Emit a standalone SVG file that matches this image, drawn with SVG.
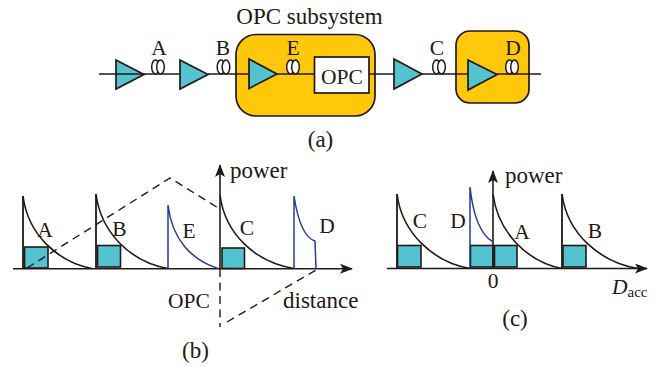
<svg xmlns="http://www.w3.org/2000/svg" width="657" height="367" viewBox="0 0 657 367">
<defs>
<marker id="ah" markerWidth="14" markerHeight="10" refX="12" refY="5" orient="auto" markerUnits="userSpaceOnUse"><path d="M0 0L13 5L0 10L3 5Z" fill="#231815"/></marker>
<g id="coil"><ellipse cx="-2.500" cy="-7" rx="3.800" ry="7"/><ellipse cx="2.500" cy="-7" rx="3.800" ry="7"/></g>
</defs>
<style>
text{font-family:"Liberation Serif","Times New Roman",serif;font-size:21.500px;fill:#231815}
.s{font-size:23px}
.ln{fill:none;stroke:#231815;stroke-width:1.6}
.tri{fill:#52c3cf;stroke:#231815;stroke-width:1.7;stroke-linejoin:miter}
.sub{fill:#ffc80a;stroke:#231815;stroke-width:1.7}
.coil{fill:#fff;stroke:#231815;stroke-width:1.5}
.sq{fill:#52c3cf;stroke:#231815;stroke-width:1.6}
.k{fill:none;stroke:#231815;stroke-width:1.6}
.bl{fill:none;stroke:#2a3a96;stroke-width:1.5}
.v{fill:none;stroke:#231815;stroke-width:1.8}
.ax{fill:none;stroke:#231815;stroke-width:1.6}
.d{fill:none;stroke:#231815;stroke-width:1.4;stroke-dasharray:8 5.500}
</style>
<g id="subsystem-opc"><rect class="sub" x="236" y="34.500" width="139" height="81.500" rx="20"/></g>
<g id="subsystem-d"><rect class="sub" x="456" y="31" width="73" height="72" rx="14"/></g>
<g id="amp1"><path class="tri" d="M116 60L144 74.500L116 89Z"/></g>
<g id="amp2"><path class="tri" d="M180 60L208 74.500L180 89Z"/></g>
<g id="amp3"><path class="tri" d="M249 59L277 74L249 88.500Z"/></g>
<g id="amp4"><path class="tri" d="M394 59L422 74L394 89Z"/></g>
<g id="amp5"><path class="tri" d="M468 60L497 74.500L468 90Z"/></g>
<g id="squares">
<rect class="sq" x="24.500" y="247" width="23.500" height="21"/>
<rect class="sq" x="97.500" y="245.500" width="23" height="21.500"/>
<rect class="sq" x="222" y="248" width="22.500" height="20.500"/>
<rect class="sq" x="397.500" y="245.500" width="23.500" height="21.500"/>
<rect class="sq" x="470.500" y="245.500" width="22.500" height="21.500"/>
<rect class="sq" x="494.500" y="245.500" width="22.500" height="21.500"/>
<rect class="sq" x="563" y="245.500" width="23" height="21.500"/>
</g>
<g id="connectors">
<path class="ln" d="M99 74H180M208 74H249M277 74H314M369 74H394M422 74H468M497 74H541"/>
<path class="d" d="M27 268L170 178L220 209"/>
<path class="d" d="M220 269V327"/>
<path class="d" d="M227 322L316 270"/>
</g>
<g id="coil-a" class="coil"><use href="#coil" x="158" y="74"/></g>
<g id="coil-b" class="coil"><use href="#coil" x="223.500" y="74"/></g>
<g id="coil-e" class="coil"><use href="#coil" x="293" y="74"/></g>
<g id="coil-c" class="coil"><use href="#coil" x="439" y="74"/></g>
<g id="coil-d" class="coil"><use href="#coil" x="512" y="74"/></g>
<g id="opc-box"><rect x="314.500" y="57" width="54.500" height="36" fill="#fff" stroke="#231815" stroke-width="1.700"/><text x="342" y="84" text-anchor="middle">OPC</text></g>
<g id="labels-a">
<text x="309.500" y="24" text-anchor="middle" class="s">OPC subsystem</text>
<text x="159" y="55" text-anchor="middle">A</text>
<text x="223" y="55" text-anchor="middle">B</text>
<text x="293" y="55" text-anchor="middle">E</text>
<text x="437" y="55" text-anchor="middle">C</text>
<text x="513" y="55" text-anchor="middle">D</text>
<text x="320.500" y="147" text-anchor="middle" class="s">(a)</text>
</g>
<g id="chart-b">
<path class="ax" d="M13 268.700H352" marker-end="url(#ah)"/>
<path class="ax" d="M220 269V165" marker-end="url(#ah)" stroke-width="2"/>
<path class="v" d="M23 196V269M96 194V269"/>
<path class="k" d="M23 196C28 235 58 262 92 268.500"/>
<path class="k" d="M96 194C101 233 131 262 168 268.500"/>
<path class="k" d="M220 195C225 234 255 262 294 268.500"/>
<path class="bl" d="M168 205V269M168 205C172 240 192 260 218 268.500"/>
<path class="bl" d="M294 196V269M294 196C298 222 305 238 315 241L316 269"/>
<text x="45" y="237" text-anchor="middle">A</text>
<text x="119.500" y="236" text-anchor="middle">B</text>
<text x="189" y="238" text-anchor="middle">E</text>
<text x="247" y="235" text-anchor="middle">C</text>
<text x="327" y="233" text-anchor="middle">D</text>
<text x="230" y="178" class="s">power</text>
<text x="168" y="308">OPC</text>
<text x="283" y="308" class="s">distance</text>
<text x="195.500" y="358" text-anchor="middle" class="s">(b)</text>
</g>
<g id="chart-c">
<path class="ax" d="M387 268.500H647" marker-end="url(#ah)"/>
<path class="ax" d="M493 268V171" marker-end="url(#ah)"/>
<path class="v" d="M397 194V268M562 194V268"/>
<path class="k" d="M397 194C402 233 433 262 470 268.500"/>
<path class="k" d="M493 194C498 233 528 262 562 268.500"/>
<path class="k" d="M562 194C567 233 599 262 638 268.500"/>
<path class="bl" d="M470 187V268M470 187C473 215 481 235 493 242"/>
<text x="420" y="228" text-anchor="middle">C</text>
<text x="458" y="228" text-anchor="middle">D</text>
<text x="522" y="239" text-anchor="middle">A</text>
<text x="595" y="238" text-anchor="middle">B</text>
<text x="505" y="183" class="s">power</text>
<text x="493" y="288" text-anchor="middle">0</text>
<text x="612" y="294" font-style="italic">D<tspan font-size="15" font-style="normal" dy="3">acc</tspan></text>
<text x="515" y="326" text-anchor="middle" class="s">(c)</text>
</g>
</svg>
